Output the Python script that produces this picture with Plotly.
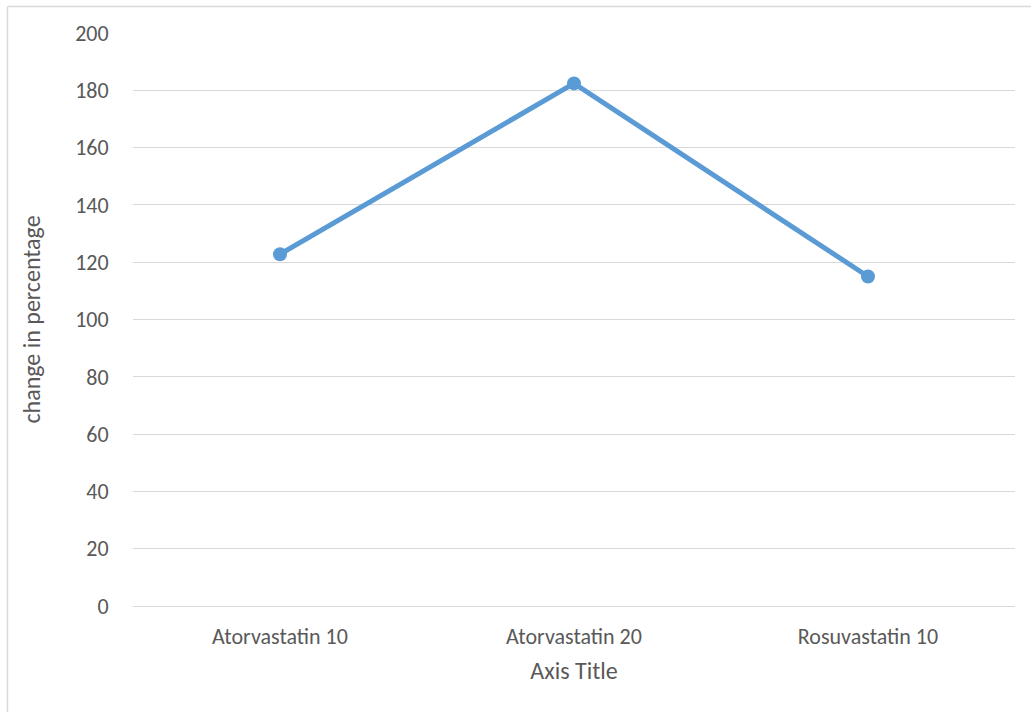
import plotly.graph_objects as go

# Drug regimens and the percentage change recorded for each
categories = ["Atorvastatin 10", "Atorvastatin 20", "Rosuvastatin 10"]
change_pct = [122.8, 182.4, 115.0]

y_ticks = [0, 20, 40, 60, 80, 100, 120, 140, 160, 180, 200]

W, H = 1031, 712
ML, MR, MT, MB = 133, 16, 33, 106
plot_w = W - ML - MR
plot_h = H - MT - MB

font_family = "Carlito, Calibri, Lato, 'Open Sans', sans-serif"
text_color = "#595959"
grid_color = "#D9D9D9"
line_color = "#5B9BD5"

fig = go.Figure(
    go.Scatter(
        x=list(range(len(categories))),
        y=change_pct,
        mode="lines+markers",
        line=dict(color=line_color, width=5),
        marker=dict(color=line_color, size=14),
        cliponaxis=False,
        hoverinfo="x+y",
    )
)

fig.update_layout(
    width=W,
    height=H,
    margin=dict(l=ML, r=MR, t=MT, b=MB),
    paper_bgcolor="white",
    plot_bgcolor="white",
    showlegend=False,
    font=dict(family=font_family, color=text_color, size=22),
    xaxis=dict(
        range=[-0.5, 2.5],
        tickmode="array",
        tickvals=list(range(len(categories))),
        ticktext=categories,
        showgrid=False,
        zeroline=False,
        showline=False,
        ticks="outside",
        ticklen=11,
        tickcolor="rgba(0,0,0,0)",
        tickfont=dict(size=22, color=text_color),
        title=dict(text="Axis Title", font=dict(size=24, color=text_color), standoff=12),
    ),
    yaxis=dict(
        range=[0, 200],
        tickmode="array",
        tickvals=y_ticks,
        showgrid=True,
        gridcolor=grid_color,
        gridwidth=1.3,
        zeroline=True,
        zerolinecolor=grid_color,
        zerolinewidth=1.3,
        showline=False,
        ticks="outside",
        ticklen=19,
        tickcolor="rgba(0,0,0,0)",
        tickfont=dict(size=22, color=text_color),
        title=dict(text="change in percentage", font=dict(size=24, color=text_color), standoff=27),
    ),
)

# Chart-area frame: left and top edges
x_left = (7.5 - ML) / plot_w
y_top = 1 + (MT - 6.5) / plot_h
y_bot = -(H - MT - plot_h + 10) / plot_h
x_right = 1 + (MR + 10) / plot_w
fig.add_shape(type="line", xref="paper", yref="paper", x0=x_left, x1=x_left, y0=y_bot, y1=y_top,
              line=dict(color=grid_color, width=1.5))
fig.add_shape(type="line", xref="paper", yref="paper", x0=x_left, x1=x_right, y0=y_top, y1=y_top,
              line=dict(color=grid_color, width=1.5))

fig.write_html("out.html")
